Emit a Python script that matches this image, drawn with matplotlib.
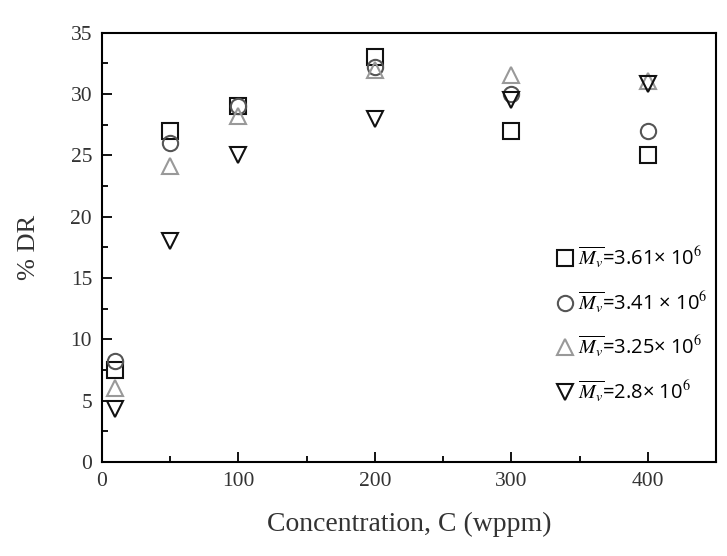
import matplotlib
matplotlib.use("Agg")
import matplotlib.pyplot as plt

plt.rcParams["mathtext.fontset"] = "stix"

# drag reduction vs polymer concentration, four molecular weights
conc = [10, 50, 100, 200, 300, 400]
dr_361 = [7.5, 27.0, 29.0, 33.0, 27.0, 25.0]
dr_341 = [8.2, 26.0, 29.0, 32.2, 30.0, 27.0]
dr_325 = [6.0, 24.1, 28.2, 32.0, 31.6, 31.1]
dr_280 = [4.3, 18.0, 25.0, 28.0, 29.5, 30.8]

labels = [
    r"$\overline{M_v}$=3.61× 10$^6$",
    r"$\overline{M_v}$=3.41 × 10$^6$",
    r"$\overline{M_v}$=3.25× 10$^6$",
    r"$\overline{M_v}$=2.8× 10$^6$",
]

fig = plt.figure(figsize=(7.27, 5.56), dpi=100)
ax = fig.add_axes([0.140, 0.169, 0.845, 0.772])

style = dict(linestyle="none", markersize=11, markerfacecolor="none", markeredgewidth=1.5)
ax.plot(conc, dr_361, marker="s", markeredgecolor="#111111", label=labels[0], **style)
ax.plot(conc, dr_341, marker="o", markeredgecolor="#555555", label=labels[1], **style)
ax.plot(conc, dr_325, marker="^", markeredgecolor="#999999", label=labels[2], **style)
ax.plot(conc, dr_280, marker="v", markeredgecolor="#111111", label=labels[3], **style)

ax.set_xlim(0, 450)
ax.set_ylim(0, 35)
ax.set_xticks([0, 100, 200, 300, 400])
ax.set_xticks(range(50, 450, 100), minor=True)
ax.set_yticks(range(0, 36, 5))
ax.set_yticks([2.5 + 5 * i for i in range(7)], minor=True)
ax.tick_params(which="both", direction="in", width=1.3)
ax.tick_params(which="major", length=7, labelsize=15.5, labelcolor="#333333", pad=7)
ax.tick_params(which="minor", length=4)
for lab in ax.get_xticklabels() + ax.get_yticklabels():
    lab.set_fontfamily("Liberation Serif")
for s in ax.spines.values():
    s.set_linewidth(1.5)

ax.set_xlabel("Concentration, C (wppm)", fontsize=20, family="Liberation Serif",
              labelpad=15, color="#333333")
ax.set_ylabel("% DR", fontsize=19, family="Liberation Serif", labelpad=22, color="#333333")

leg = ax.legend(loc="upper left", bbox_to_anchor=(0.725, 0.525), frameon=False,
                prop={"family": "Open Sans", "size": 14.5}, handletextpad=0.15,
                handlelength=1.0, labelspacing=0.95, borderaxespad=0)

fig.savefig("out.png", dpi=100)
